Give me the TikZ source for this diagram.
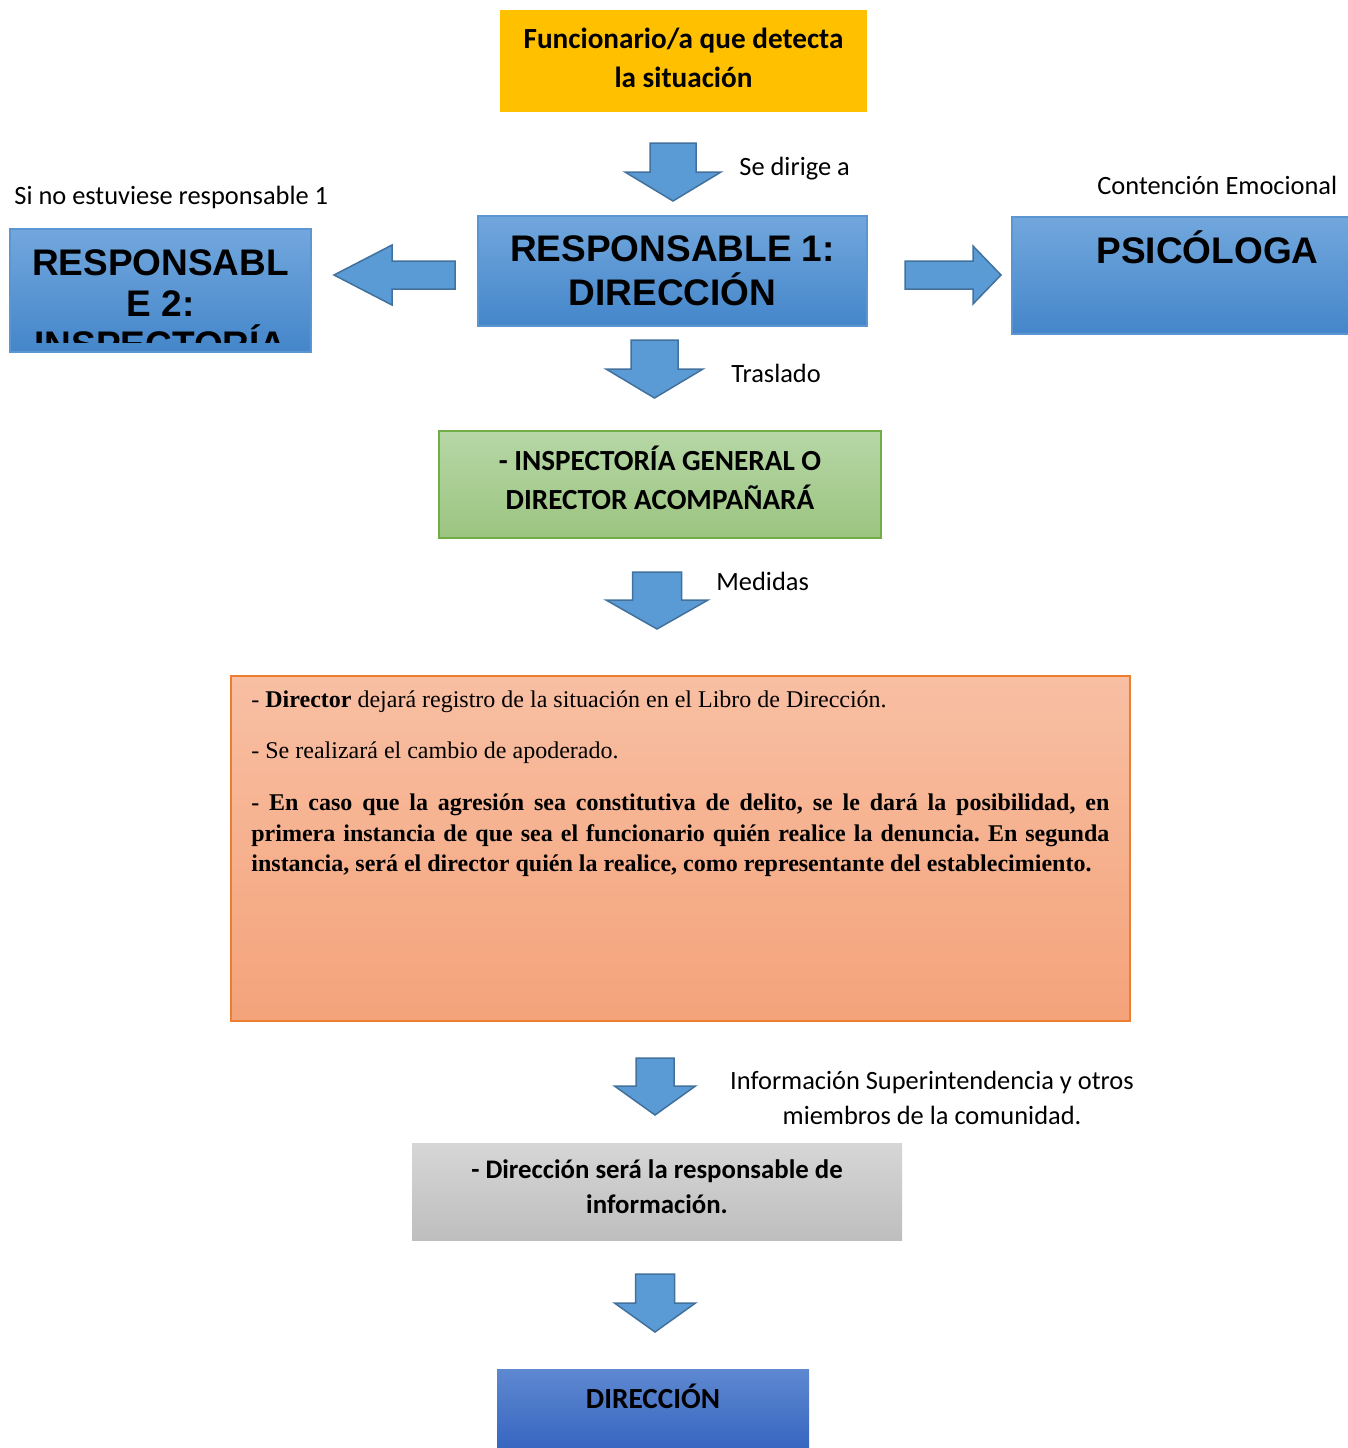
\documentclass[tikz,border=0pt]{standalone}
\usepackage{fontspec}
\setmainfont{Carlito}
\newfontfamily\arialfont{Liberation Sans}
\newfontfamily\timesfont{Liberation Serif}
\definecolor{amarillo}{RGB}{255,192,0}
\definecolor{azulA}{RGB}{114,167,221}
\definecolor{azulB}{RGB}{68,134,202}
\definecolor{azulborde}{RGB}{91,150,210}
\definecolor{flecha}{RGB}{91,155,213}
\definecolor{flechaborde}{RGB}{65,113,156}
\definecolor{verdeA}{RGB}{182,215,166}
\definecolor{verdeB}{RGB}{156,196,128}
\definecolor{verdeborde}{RGB}{112,173,71}
\definecolor{naranjaA}{RGB}{248,191,163}
\definecolor{naranjaB}{RGB}{244,163,122}
\definecolor{naranjaborde}{RGB}{237,125,49}
\definecolor{grisA}{RGB}{214,214,214}
\definecolor{grisB}{RGB}{190,190,190}
\definecolor{oscuroA}{RGB}{94,136,208}
\definecolor{oscuroB}{RGB}{50,97,190}
\newcommand{\labelsize}{\fontsize{13.2}{17.5}\selectfont}
\newcommand{\boxsize}{\fontsize{14.6}{19.5}\selectfont\bfseries}
\newcommand{\bigsize}{\arialfont\fontsize{18.5}{22}\selectfont\bfseries}
% block arrows: centre/tail, start, neck, tip, half shaft, half head
\newcommand{\arrowdown}[6]{\draw[blockarrow] (#1-#5,#2)--(#1+#5,#2)--(#1+#5,#3)--(#1+#6,#3)--(#1,#4)--(#1-#6,#3)--(#1-#5,#3)--cycle;}
\newcommand{\arrowside}[6]{\draw[blockarrow] (#1,#4-#5)--(#2,#4-#5)--(#2,#4-#6)--(#3,#4)--(#2,#4+#6)--(#2,#4+#5)--(#1,#4+#5)--cycle;}
\tikzset{
  blockarrow/.style={fill=flecha, draw=flechaborde, line width=0.75pt, line join=miter},
  bluebox/.style={top color=azulA, bottom color=azulB, draw=azulborde, line width=0.6pt, inner sep=0pt},
  plainlabel/.style={font=\labelsize, inner sep=0pt},
  boxtext/.style={align=center, inner sep=0pt, font=\boxsize}
}

\begin{document}
\begin{tikzpicture}[x=0.5pt, y=-0.5pt]
\useasboundingbox (0,0) rectangle (1348,1448);
% top box
\node[fill=amarillo, minimum width=183.5pt, minimum height=51pt] (funcionario) at (683.5,61) {};
\node[boxtext] (funcionariotxt) at (683.5,58) {Funcionario/a que detecta\\la situación};
\arrowdown{673}{143}{172}{201}{23}{48}
\node[plainlabel, anchor=west] (sedirige) at (739,169) {Se dirige a};
% row of responsables
\node[bluebox, minimum width=194.5pt, minimum height=55pt, align=center, font=\bigsize] (resp1) at (672.5,271) {RESPONSABLE 1:\\DIRECCIÓN};
\node[bluebox, minimum width=150.5pt, minimum height=61.5pt] (resp2) at (160.5,290.5) {};
\begin{scope}
  \clip (10,229) rectangle (311,342);
  \node[anchor=north, align=center, inner sep=0pt, font=\arialfont\fontsize{18.5}{20.5}\selectfont\bfseries] (resp2txt) at (160.5,249) {RESPONSABL\\E 2:\\INSPECTORÍA};
\end{scope}
\node[plainlabel, anchor=west] (sinoesta) at (14,197) {Si no estuviese responsable 1};
\arrowside{455}{392}{334}{275}{14}{30}
\node[bluebox, minimum width=174pt, minimum height=58.5pt] (psico) at (1186,275.5) {};
\node[anchor=base, inner sep=0pt, font=\bigsize] (psicotxt) at (1207.5,263) {PSICÓLOGA};
\node[plainlabel, anchor=west] (contencion) at (1097,185) {Contención Emocional};
\arrowside{905}{973}{1001}{275}{14}{29}
% traslado
\arrowdown{654.5}{340}{369}{398}{23.5}{48.5}
\node[plainlabel, anchor=west] (traslado) at (731,373) {Traslado};
\node[top color=verdeA, bottom color=verdeB, draw=verdeborde, line width=0.75pt, minimum width=221pt, minimum height=53.5pt] (inspectoria) at (660,484.5) {};
\node[boxtext] (inspectoriatxt) at (660,477.5) {- INSPECTORÍA GENERAL O\\DIRECTOR ACOMPAÑARÁ};
% medidas
\arrowdown{657}{572}{600}{629}{24.5}{51}
\node[plainlabel, anchor=west] (medidaslbl) at (716,581) {Medidas};
\node[top color=naranjaA, bottom color=naranjaB, draw=naranjaborde, line width=0.75pt, minimum width=449.5pt, minimum height=172.5pt] (medidas) at (680.5,848.5) {};
\node[anchor=base west, inner sep=0pt, text width=429pt, align=justify, font=\timesfont\fontsize{12}{15.25}\selectfont\frenchspacing] (medidastxt) at (251,707.5) {- \textbf{Director} dejará registro de la situación en el Libro de Dirección.\par\vspace{10.25pt}
- Se realizará el cambio de apoderado.\par\vspace{10.75pt}
\textbf{- En caso que la agresión sea constitutiva de delito, se le dará la posibilidad, en\linebreak primera instancia de que sea el funcionario quién realice la denuncia. En segunda\linebreak instancia, será el director quién la realice, como representante del establecimiento.}};
% informacion
\arrowdown{655}{1058}{1086}{1115}{19}{40.5}
\node[plainlabel, align=center] (infolbl) at (932,1097.5) {Información Superintendencia y otros\\miembros de la comunidad.};
\node[top color=grisA, bottom color=grisB, minimum width=245pt, minimum height=48.5pt] (info) at (657,1191.5) {};
\node[boxtext, font=\fontsize{13.4}{17.5}\selectfont\bfseries] (infotxt) at (657,1186.5) {- Dirección será la responsable de\\información.};
\arrowdown{655}{1274}{1303}{1332}{19.5}{40.5}
\node[top color=oscuroA, bottom color=oscuroB, minimum width=156pt, minimum height=45.5pt] (direccion) at (653,1414.5) {};
\node[boxtext] (direcciontxt) at (653,1396) {DIRECCIÓN};
\end{tikzpicture}
\end{document}
